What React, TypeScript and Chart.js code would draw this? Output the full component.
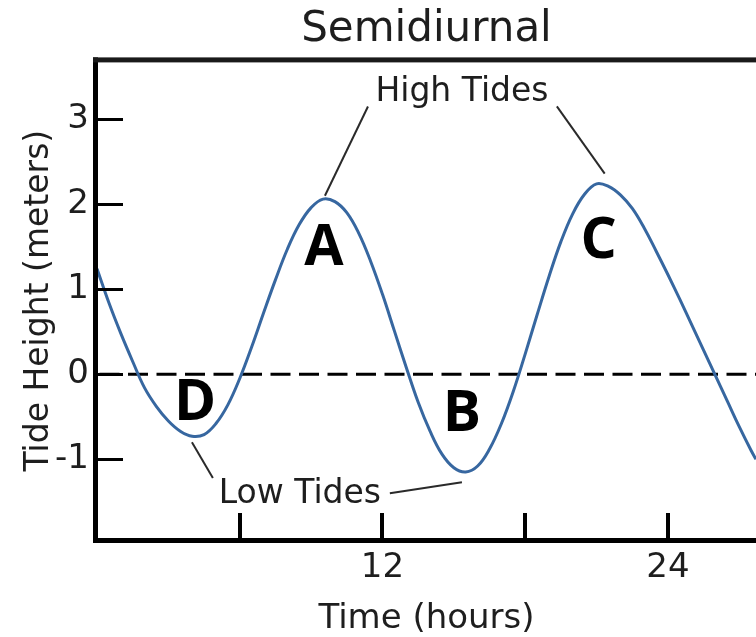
import React, { useEffect, useRef } from "react";
import { Chart, registerables } from "chart.js";

Chart.register(...registerables);

// ---- data ----
const hours = [0, 0.5, 1, 1.5, 2, 2.5, 3, 3.5, 4, 4.5, 5, 5.5, 6, 6.5, 7, 7.5, 8, 8.5, 9, 9.5, 10, 10.5, 11, 11.5, 12, 12.5, 13, 13.5, 14, 14.5, 15, 15.5, 16, 16.5, 17, 17.5, 18, 18.5, 19, 19.5, 20, 20.5, 21, 21.5, 22, 22.5, 23, 23.5, 24, 24.5, 25, 25.5, 26, 26.5, 27, 27.5, 27.7];
const tideHeights = [1.24, 0.84, 0.48, 0.15, -0.16, -0.38, -0.55, -0.67, -0.73, -0.71, -0.58, -0.36, -0.05, 0.32, 0.72, 1.11, 1.47, 1.76, 1.96, 2.06, 2.03, 1.9, 1.66, 1.33, 0.94, 0.51, 0.08, -0.33, -0.67, -0.94, -1.1, -1.15, -1.08, -0.88, -0.58, -0.2, 0.24, 0.7, 1.15, 1.56, 1.89, 2.12, 2.24, 2.21, 2.11, 1.95, 1.72, 1.45, 1.17, 0.88, 0.58, 0.28, -0.02, -0.32, -0.62, -0.9, -1.0];

const xTickValues = [6, 12, 18, 24];
const xTickLabels = ["", "12", "", "24"];
const yTickValues = [-1, 0, 1, 2, 3];
const yTickLabels = ["-1", "0", "1", "2", "3"];

const chartTitle = "Semidiurnal";
const xTitle = "Time (hours)";
const yTitle = "Tide Height (meters)";
const referenceLevel = 0;

// annotations, positioned in data units [hour, height]
const letterTexts = ["A", "B", "C", "D"];
const letterAnchors = [
  [9.54, 1.29],
  [15.34, -0.67],
  [21.09, 1.37],
  [4.12, -0.54],
];
const calloutTexts = ["High Tides", "Low Tides"];
const calloutAnchors = [
  [15.34, 3.21],
  [8.53, -1.51],
];
const leaderLines = [
  [11.39, 3.15, 9.58, 2.1],
  [19.33, 3.15, 21.34, 2.36],
  [3.99, -0.8, 4.87, -1.22],
  [12.31, -1.4, 15.34, -1.27],
];

const FONT = "'DejaVu Sans', sans-serif";
const TEXT_COLOR = "#1e1e1e";

const tidePlugin = {
  id: "tidePlugin",
  beforeDatasetsDraw(chart: any) {
    const { ctx, chartArea, scales } = chart;
    const y0 = scales.y.getPixelForValue(referenceLevel);
    ctx.save();
    ctx.strokeStyle = "#000";
    ctx.lineWidth = 3;
    ctx.setLineDash([20, 8.5]);
    ctx.lineDashOffset = -2.5;
    ctx.beginPath();
    ctx.moveTo(chartArea.left, y0);
    ctx.lineTo(chartArea.right, y0);
    ctx.stroke();
    ctx.restore();
  },
  afterDraw(chart: any) {
    const { ctx, chartArea, scales } = chart;
    const { left, right, top, bottom } = chartArea;
    const xs = scales.x;
    const ys = scales.y;
    ctx.save();
    // frame (left, top, bottom)
    ctx.fillStyle = "#000";
    ctx.fillRect(left - 4, top - 4, 5, bottom - top + 7);
    ctx.fillStyle = "#1a1a1a";
    ctx.fillRect(left - 4, top - 4, right - left + 4, 5);
    ctx.fillStyle = "#000";
    ctx.fillRect(left - 4, bottom - 2, right - left + 4, 5);

    // inward tick marks
    ctx.strokeStyle = "#000";
    ctx.lineWidth = 4;
    xTickValues.forEach((v) => {
      const px = Math.round(xs.getPixelForValue(v));
      ctx.beginPath();
      ctx.moveTo(px, bottom);
      ctx.lineTo(px, bottom - 27);
      ctx.stroke();
    });
    ctx.lineWidth = 3;
    yTickValues.forEach((v) => {
      const py = Math.round(ys.getPixelForValue(v)) + 0.5;
      ctx.beginPath();
      ctx.moveTo(left, py);
      ctx.lineTo(left + 26, py);
      ctx.stroke();
    });

    // leader lines
    ctx.strokeStyle = "#2a2a2a";
    ctx.lineWidth = 2;
    leaderLines.forEach(([t1, h1, t2, h2]) => {
      ctx.beginPath();
      ctx.moveTo(xs.getPixelForValue(t1), ys.getPixelForValue(h1));
      ctx.lineTo(xs.getPixelForValue(t2), ys.getPixelForValue(h2));
      ctx.stroke();
    });

    // callout texts
    ctx.fillStyle = TEXT_COLOR;
    ctx.textAlign = "center";
    ctx.textBaseline = "alphabetic";
    ctx.font = `33px ${FONT}`;
    calloutTexts.forEach((txt, i) => {
      const [t, h] = calloutAnchors[i];
      ctx.fillText(txt, xs.getPixelForValue(t), ys.getPixelForValue(h));
    });

    // letters
    ctx.fillStyle = "#000";
    ctx.font = `bold 57px 'Open Sans', 'DejaVu Sans', sans-serif`;
    letterTexts.forEach((txt, i) => {
      const [t, h] = letterAnchors[i];
      ctx.fillText(txt, xs.getPixelForValue(t), ys.getPixelForValue(h));
    });
    ctx.restore();
  },
};

export default function App() {
  const canvasRef = useRef<HTMLCanvasElement | null>(null);

  useEffect(() => {
    document.body.style.margin = "0";
    const canvas = canvasRef.current;
    if (!canvas) return;
    const points = hours.map((t, i) => ({ x: t, y: tideHeights[i] }));
    const tickFont = { family: FONT, size: 34, weight: "normal" as const };
    const chart = new Chart(canvas, {
      type: "line",
      data: {
        datasets: [
          {
            data: points,
            borderColor: "#3767a0",
            borderWidth: 3,
            pointRadius: 0,
            fill: false,
            tension: 0.4,
          },
        ],
      },
      options: {
        responsive: false,
        animation: false,
        events: [],
        layout: { padding: 0 },
        plugins: {
          legend: { display: false },
          tooltip: { enabled: false },
          title: {
            display: true,
            text: chartTitle,
            fullSize: false,
            color: TEXT_COLOR,
            font: { family: FONT, size: 42, weight: "normal" },
            padding: { top: 5, bottom: 6 },
          },
        },
        scales: {
          x: {
            type: "linear",
            min: 0,
            max: 27.7,
            afterBuildTicks: (s: any) => {
              s.ticks = xTickValues.map((v) => ({ value: v }));
            },
            afterFit: (s: any) => {
              s.height = 97;
            },
            grid: { display: false, drawTicks: false },
            border: { display: false },
            ticks: {
              autoSkip: false,
              maxRotation: 0,
              padding: 8,
              color: TEXT_COLOR,
              font: tickFont,
              callback: (_v: any, i: number) => xTickLabels[i],
            },
            title: {
              display: true,
              text: xTitle,
              color: TEXT_COLOR,
              font: tickFont,
              padding: { top: 0, bottom: -3 },
            },
          },
          y: {
            type: "linear",
            min: -1.95,
            max: 3.68,
            afterBuildTicks: (s: any) => {
              s.ticks = yTickValues.map((v) => ({ value: v }));
            },
            afterFit: (s: any) => {
              s.width = 97;
            },
            grid: { display: false, drawTicks: false },
            border: { display: false },
            ticks: {
              padding: 8,
              color: TEXT_COLOR,
              font: tickFont,
              callback: (_v: any, i: number) => yTickLabels[i],
            },
            title: {
              display: true,
              text: yTitle,
              color: TEXT_COLOR,
              font: { family: FONT, size: 33, weight: "normal" },
              padding: { top: 20, bottom: 0 },
            },
          },
        },
      },
      plugins: [tidePlugin],
    });
    return () => chart.destroy();
  }, []);

  return (
    <canvas
      ref={canvasRef}
      width={756}
      height={637}
      style={{ display: "block", width: 756, height: 637 }}
    />
  );
}
